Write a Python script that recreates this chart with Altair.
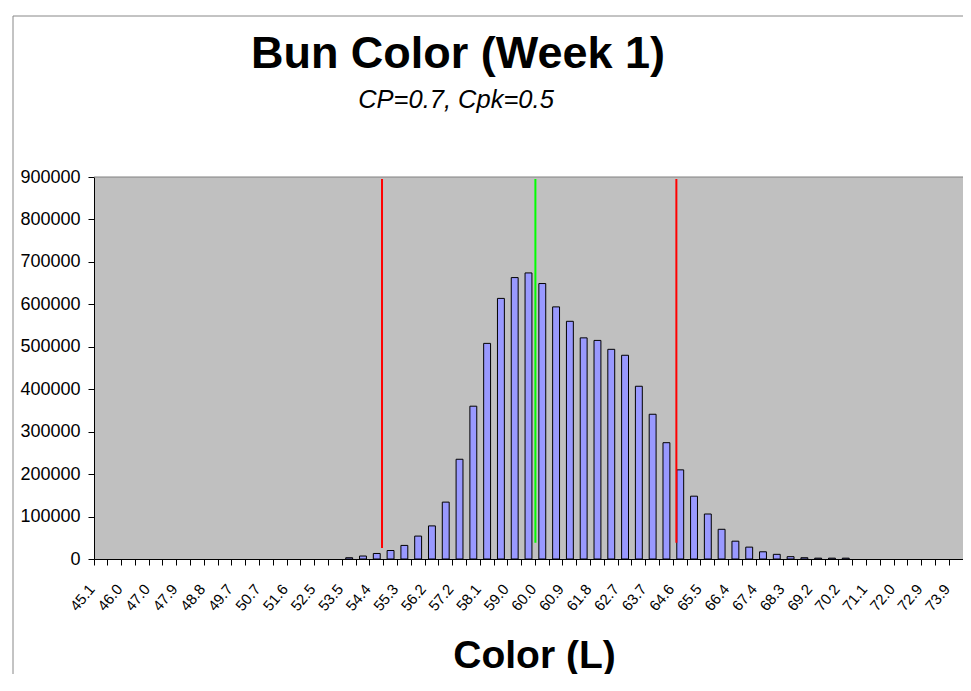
import json
import altair as alt
import pandas as pd

# Category labels (bin values of Color L)
categories = [
    "45.1", "45.6", "46.0", "46.5", "47.0", "47.4", "47.9", "48.4",
    "48.8", "49.3", "49.7", "50.2", "50.7", "51.1", "51.6", "52.1",
    "52.5", "53.0", "53.5", "53.9", "54.4", "54.9", "55.3", "55.8",
    "56.2", "56.7", "57.2", "57.6", "58.1", "58.6", "59.0", "59.5",
    "60.0", "60.4", "60.9", "61.4", "61.8", "62.3", "62.7", "63.2",
    "63.7", "64.1", "64.6", "65.1", "65.5", "66.0", "66.4", "66.9",
    "67.4", "67.9", "68.3", "68.8", "69.2", "69.7", "70.2", "70.6",
    "71.1", "71.6", "72.0", "72.5", "72.9", "73.4", "73.9",
]

# Counts per bin
counts = [
    0, 0, 0, 0, 0, 0, 0, 0,
    0, 0, 0, 0, 0, 0, 0, 0,
    0, 0, 3000, 7000, 13000, 20000, 32000, 54000,
    78000, 134000, 235000, 360000, 508000, 614000, 663000, 674000,
    649000, 594000, 560000, 521000, 515000, 494000, 480000, 407000,
    341000, 274000, 210000, 148000, 106000, 70000, 42000, 28000,
    17000, 11000, 5500, 3000, 2000, 2000, 2000, 0,
    0, 0, 0, 0, 0, 0, 0,
]

# Labels that are printed on the axis
shown_labels = [
    "45.1", "46.0", "47.0", "47.9", "48.8", "49.7", "50.7", "51.6",
    "52.5", "53.5", "54.4", "55.3", "56.2", "57.2", "58.1", "59.0",
    "60.0", "60.9", "61.8", "62.7", "63.7", "64.6", "65.5", "66.4",
    "67.4", "68.3", "69.2", "70.2", "71.1", "72.0", "72.9", "73.9",
]

# Specification lines: LSL, target, USL
line_names = ["LSL", "Target", "USL"]
line_cats = ["54.4", "60.0", "64.6"]
line_tops = [895000, 895000, 895000]
line_bottoms = [26000, 38000, 38000]

y_ticks = [0, 100000, 200000, 300000, 400000, 500000, 600000, 700000, 800000, 900000]
y_max = 900000

title_text = "Bun Color (Week 1)"
subtitle_text = "CP=0.7, Cpk=0.5"

df = pd.DataFrame({"cat": categories, "count": counts})
lines = pd.DataFrame({"name": line_names, "cat": line_cats,
                      "top": line_tops, "bottom": line_bottoms})

FONT = "Liberation Sans"
W = 869
H = 382

x_scale = alt.Scale(domain=categories, paddingInner=0, paddingOuter=0)

label_expr = "indexof(%s, datum.value) >= 0 ? datum.value : ''" % json.dumps(shown_labels)

bars = alt.Chart(df).transform_filter("datum.count > 0").mark_bar(
    width=alt.RelativeBandSize(0.5), color="#9999FF", stroke="black", strokeWidth=1
).encode(
    x=alt.X("cat:N", scale=x_scale, title="Color (L)",
            axis=alt.Axis(bandPosition=0, labelAngle=-50, labelAlign="right",
                          labelBaseline="middle", labelPadding=21, labelFontSize=15,
                          labelOffset=-9,
                          labelExpr=label_expr, labelOverlap=False, tickSize=6,
                          titleFontSize=39, titleFontWeight="bold", titleY=108,
                          titleX=440, titleBaseline="alphabetic")),
    y=alt.Y("count:Q", scale=alt.Scale(domain=[0, y_max], nice=False), title=None,
            axis=alt.Axis(values=y_ticks, format="d", labelFontSize=18,
                          labelPadding=8, tickSize=6)),
)

def spec_line(name, color, band):
    return alt.Chart(lines).transform_filter(
        alt.datum.name == name
    ).mark_rule(color=color, strokeWidth=2).encode(
        x=alt.X("cat:N", bandPosition=band, title="Color (L)"),
        y=alt.Y("top:Q", title=None),
        y2="bottom:Q",
    )

lsl = spec_line("LSL", "#FF0000", 0.88)
tgt = spec_line("Target", "#00FF00", 0.0)
usl = spec_line("USL", "#FF0000", 0.22)

one = pd.DataFrame({"a": [0]})
# plot-area top border
top_border = alt.Chart(one).mark_rule(color="#808080", strokeWidth=1).encode(
    y=alt.datum(y_max))
# chart-area frame
frame_v = alt.Chart(one).mark_rule(color="#888888", strokeWidth=1).encode(
    x=alt.value(-81), y=alt.value(-161), y2=alt.value(H + 115))
frame_h = alt.Chart(one).mark_rule(color="#888888", strokeWidth=1).encode(
    x=alt.value(-81), x2=alt.value(W), y=alt.value(-161))

title_df = pd.DataFrame({"t": [title_text]})
subtitle_df = pd.DataFrame({"t": [subtitle_text]})
title_mark = alt.Chart(title_df).mark_text(
    font=FONT, fontSize=45, fontWeight="bold", color="black",
    align="center", baseline="alphabetic"
).encode(text="t:N", x=alt.value(364), y=alt.value(-109))
subtitle_mark = alt.Chart(subtitle_df).mark_text(
    font=FONT, fontSize=25.5, fontStyle="italic", color="black",
    align="center", baseline="alphabetic"
).encode(text="t:N", x=alt.value(362), y=alt.value(-69))

chart = alt.layer(
    bars, lsl, tgt, usl, top_border, frame_v, frame_h, title_mark, subtitle_mark
).properties(
    width=W,
    height=H,
    autosize=alt.AutoSizeParams(type="none"),
    padding={"left": 86, "top": 169, "right": 0, "bottom": 115},
).configure_view(
    fill="#C0C0C0", strokeWidth=0
).configure_axis(
    domainColor="black", tickColor="black", labelColor="black", titleColor="black",
    labelFont=FONT, titleFont=FONT, grid=False, domainWidth=1, tickWidth=1,
)

chart.save("out.html", embed_options={"renderer": "svg", "actions": False})
